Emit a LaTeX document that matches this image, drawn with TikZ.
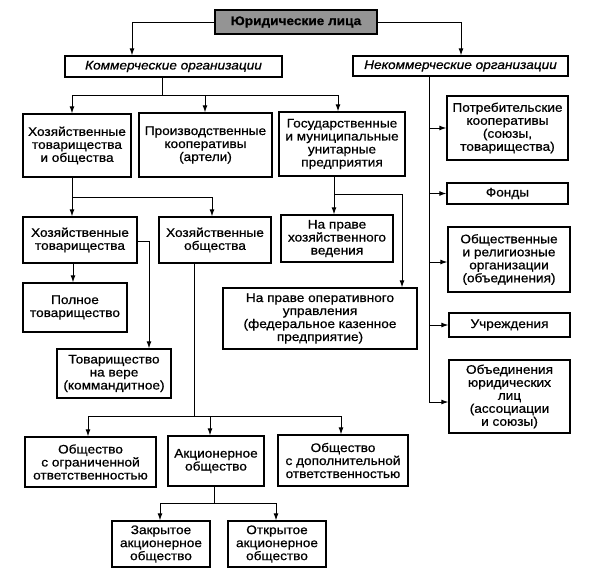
\documentclass[tikz,border=0pt]{standalone}
\usepackage{fontspec}
\setmainfont[FakeStretch=1.1,FakeBold=0.7]{Liberation Sans}
\usetikzlibrary{arrows.meta}
\tikzset{
  box/.style={draw=black, line width=1.3pt, align=center, inner sep=1pt,
    font=\fontsize{12.4}{13}\selectfont},
  head/.style={box, line width=1.8pt, fill=black!42, font=\fontsize{12.4}{13}\selectfont\bfseries},
  ital/.style={box, font=\fontsize{12.4}{13}\selectfont\itshape},
  line/.style={draw=black, line width=1pt},
  arr/.style={line, -{Latex[length=7pt,width=5pt]}},
}
\begin{document}
\begin{tikzpicture}[x=1pt,y=-1pt]
\useasboundingbox[fill=white] (0,0) rectangle (593,570);
% boxes
\node[head, minimum width=162, minimum height=24] (top) at (296,22) {Юридические лица};
\node[ital, minimum width=217, minimum height=21] (kom) at (173.5,66.5) {Коммерческие организации};
\node[ital, minimum width=215, minimum height=20] (nek) at (460.5,66) {Некоммерческие организации};
\node[box, minimum width=108, minimum height=63] (hto) at (77,145.5) {Хозяйственные\\товарищества\\и общества};
\node[box, minimum width=133, minimum height=64] (pk) at (205.5,145) {Производственные\\кооперативы\\(артели)};
\node[box, minimum width=126, minimum height=64] (gmup) at (342,144) {Государственные\\и муниципальные\\унитарные\\предприятия};
\node[box, minimum width=114, minimum height=46] (ht) at (80,240) {Хозяйственные\\товарищества};
\node[box, minimum width=112, minimum height=46] (ho) at (215,240) {Хозяйственные\\общества};
\node[box, minimum width=104, minimum height=49] (pt) at (75,307.5) {Полное\\товарищество};
\node[box, minimum width=114, minimum height=49] (tv) at (114,373.5) {Товарищество\\на вере\\(коммандитное)};
\node[box, minimum width=112, minimum height=47] (hv) at (337,238.5) {На праве\\хозяйственного\\ведения};
\node[box, minimum width=194, minimum height=61] (ou) at (320,318.5) {На праве оперативного\\управления\\(федеральное казенное\\предприятие)};
\node[box, minimum width=131, minimum height=50] (ooo) at (90.5,462) {Общество\\с ограниченной\\ответственностью};
\node[box, minimum width=96, minimum height=50] (ao) at (216,461) {Акционерное\\общество};
\node[box, minimum width=130, minimum height=51] (odo) at (343,460.5) {Общество\\с дополнительной\\ответственностью};
\node[box, minimum width=98, minimum height=46] (zao) at (161,544) {Закрытое\\акционерное\\общество};
\node[box, minimum width=98, minimum height=46] (oao) at (277,544) {Открытое\\акционерное\\общество};
\node[box, minimum width=121, minimum height=64] (potr) at (507.5,128) {Потребительские\\кооперативы\\(союзы,\\товарищества)};
\node[box, minimum width=121, minimum height=21] (fond) at (507.5,193.5) {Фонды};
\node[box, minimum width=122, minimum height=65] (obsh) at (509,259.5) {Общественные\\и религиозные\\организации\\(объединения)};
\node[box, minimum width=121, minimum height=24] (uchr) at (509.5,325) {Учреждения};
\node[box, minimum width=121, minimum height=73] (obed) at (509.5,396.5) {Объединения\\юридических\\лиц\\(ассоциации\\и союзы)};
% top connectors
\coordinate (tl) at (132,22);
\coordinate (tr) at (461,22);
\draw[arr] (top.west) -- (tl) -- (tl |- kom.north);
\draw[arr] (top.east) -- (tr) -- (tr |- nek.north);
% commercial bus
\coordinate (kj) at (162,95);
\coordinate (b1) at (72,95);
\coordinate (b2) at (205,95);
\coordinate (b3) at (338,95);
\draw[line] (kj |- kom.south) -- (kj);
\draw[line] (b1) -- (b3);
\draw[arr] (b1) -- (b1 |- hto.north);
\draw[arr] (b2) -- (b2 |- pk.north);
\draw[arr] (b3) -- (b3 |- gmup.north);
% non-commercial spine
\coordinate (nb) at (429,402);
\draw[line] (nb |- nek.south) -- (nb);
\draw[arr] (nb |- potr.west) -- (potr.west);
\draw[arr] (nb |- fond.west) -- (fond.west);
\draw[arr] (429,262) -- (obsh.west |- 0,262);
\draw[arr] (nb |- uchr.west) -- (uchr.west);
\draw[arr] (nb) -- (obed.west |- nb);
% hto split
\coordinate (h1) at (72,197);
\coordinate (h2) at (212,197);
\draw[line] (h1 |- hto.south) -- (h1) -- (h2);
\draw[arr] (h1) -- (h1 |- ht.north);
\draw[arr] (h2) -- (h2 |- ho.north);
% ht children
\coordinate (p1) at (73,0);
\draw[arr] (p1 |- ht.south) -- (p1 |- pt.north);
\coordinate (tvr) at (149,241);
\draw[arr] (ht.east |- tvr) -- (tvr) -- (tvr |- tv.north);
% gmup children
\coordinate (gj) at (334,194);
\coordinate (gr) at (402,194);
\draw[line] (gj |- gmup.south) -- (gj) -- (gr);
\draw[arr] (gj) -- (gj |- hv.north);
\draw[arr] (gr) -- (gr |- ou.north);
% ho children
\coordinate (oj) at (194,416);
\coordinate (o1) at (88,416);
\coordinate (o2) at (210,416);
\coordinate (o3) at (341,416);
\draw[line] (oj |- ho.south) -- (oj);
\draw[line] (o1) -- (o3);
\draw[arr] (o1) -- (o1 |- ooo.north);
\draw[arr] (o2) -- (o2 |- ao.north);
\draw[arr] (o3) -- (o3 |- odo.north);
% ao children
\coordinate (aj) at (214,503);
\coordinate (a1) at (160,503);
\coordinate (a2) at (276,503);
\draw[line] (aj |- ao.south) -- (aj);
\draw[line] (a1) -- (a2);
\draw[arr] (a1) -- (a1 |- zao.north);
\draw[arr] (a2) -- (a2 |- oao.north);
\end{tikzpicture}
\end{document}
